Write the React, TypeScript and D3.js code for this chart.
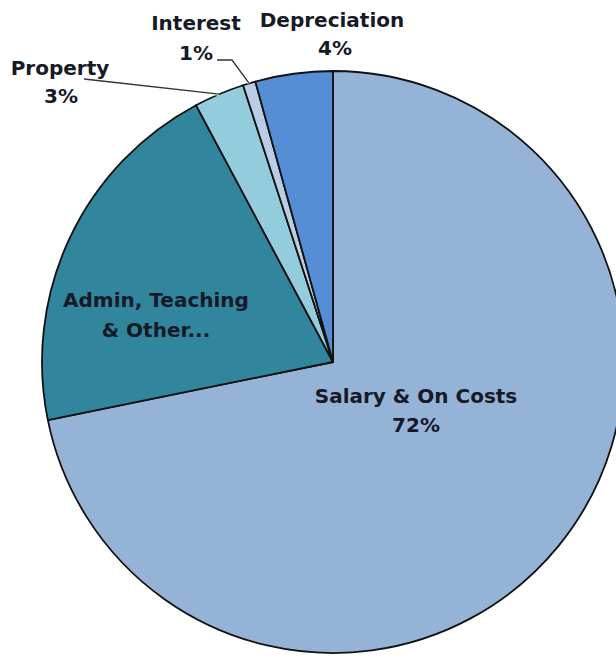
import React from "react";
import * as d3 from "d3";

const categories = ["Salary & On Costs", "Admin, Teaching & Other...", "Property", "Interest", "Depreciation"];
const values = [71.8, 20.4, 2.8, 0.7, 4.3];
const percentLabels = ["72%", "", "3%", "1%", "4%"];
const colors = ["#95B3D7", "#31859C", "#93CDDD", "#B9CDE5", "#558ED5"];

const W = 616;
const H = 658;
const CX = 333;
const CY = 362;
const R = 291;

const FONT = "'DejaVu Sans', sans-serif";

export default function App() {
  const pie = d3.pie<number>().sort(null).value((d) => d).startAngle(0).endAngle(2 * Math.PI);
  const arcs = pie(values);
  const arcGen = d3.arc<d3.PieArcDatum<number>>().innerRadius(0).outerRadius(R);
  const edge = (i: number) => {
    const a = (arcs[i].startAngle + arcs[i].endAngle) / 2;
    return [CX + R * Math.sin(a), CY - R * Math.cos(a)];
  };
  const propEdge = edge(2);
  const intEdge = edge(3);
  const textStyle: React.CSSProperties = { fontFamily: FONT, fontWeight: 700, fontSize: 20, fill: "#151a26" };

  return (
    <svg width={W} height={H} style={{ position: "absolute", left: 0, top: 0, background: "#fff" }}>
      <g transform={`translate(${CX},${CY})`}>
        {arcs.map((a, i) => (
          <path key={categories[i]} d={arcGen(a) || ""} fill={colors[i]} stroke="#111" strokeWidth={1.8} strokeLinejoin="round" />
        ))}
      </g>
      {/* leader lines */}
      <polyline points={`84,79 ${propEdge[0]},${propEdge[1]}`} fill="none" stroke="#fff" strokeWidth={3} />
      <polyline points={`84,79 ${propEdge[0]},${propEdge[1]}`} fill="none" stroke="#333" strokeWidth={1.3} />
      <polyline points={`217,60 232,60 ${intEdge[0]},${intEdge[1]}`} fill="none" stroke="#fff" strokeWidth={3} />
      <polyline points={`217,60 232,60 ${intEdge[0]},${intEdge[1]}`} fill="none" stroke="#333" strokeWidth={1.3} />

      <g style={textStyle} textAnchor="middle">
        <text x={416} y={403}>{categories[0]}</text>
        <text x={416} y={432}>{percentLabels[0]}</text>
        <text x={156} y={307}>Admin, Teaching</text>
        <text x={156} y={337}>&amp; Other...</text>
        <text x={60} y={75}>{categories[2]}</text>
        <text x={61} y={103}>{percentLabels[2]}</text>
        <text x={196} y={30}>{categories[3]}</text>
        <text x={196} y={60}>{percentLabels[3]}</text>
        <text x={332} y={27}>{categories[4]}</text>
        <text x={335} y={55}>{percentLabels[4]}</text>
      </g>
    </svg>
  );
}
